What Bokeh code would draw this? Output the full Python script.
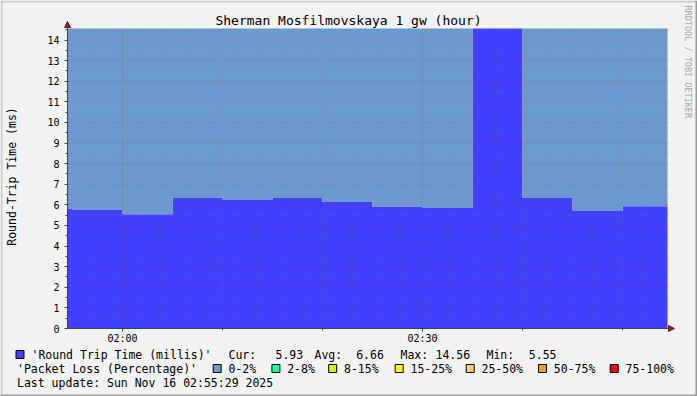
import math
import numpy as np
from bokeh.plotting import figure
from bokeh.models import (Range1d, FixedTicker, DatetimeTickFormatter,
                          Label, BoxAnnotation, Arrow, NormalHead)
from bokeh.embed import file_html
from bokeh.resources import INLINE

# ---------------- data ----------------
DAY = "2025-11-16"
step_edges = ["01:54:30", "01:55:00", "02:00:00", "02:05:00", "02:10:00", "02:15:00", "02:20:00",
              "02:25:00", "02:30:00", "02:35:00", "02:40:00", "02:45:00", "02:50:00", "02:54:30"]
rtt_ms = [5.80, 5.75, 5.55, 6.33, 6.24, 6.33, 6.14, 5.90, 5.85, 14.56, 6.33, 5.70, 5.93]
loss_pct = [0, 0, 0, 0, 0, 0, 0, 0, 0, 0, 0, 0, 0]

loss_bins = ["0-2%", "2-8%", "8-15%", "15-25%", "25-50%", "50-75%", "75-100%"]
loss_bin_upper = [2, 8, 15, 25, 50, 75, 100]
loss_colors = ["#6b9bce", "#1aff9c", "#ccff00", "#ffff00", "#ffcc66", "#ff9900", "#ff0000"]

x_major = ["02:00:00", "02:30:00"]
x_minor = ["02:10:00", "02:20:00", "02:40:00", "02:50:00"]
y_major = [0, 1, 2, 3, 4, 5, 6, 7, 8, 9, 10, 11, 12, 13, 14]
y_minor = [0.5, 1.5, 2.5, 3.5, 4.5, 5.5, 6.5, 7.5, 8.5, 9.5, 10.5, 11.5, 12.5, 13.5, 14.5]
view_start, view_end = "01:54:30", "02:54:42"
y_top = 14.56

stat_names = ["Cur:", "Avg:", "Max:", "Min:"]
stat_values = [5.93, 6.66, 14.56, 5.55]

title_text = "Sherman Mosfilmovskaya 1 gw (hour)"
rtt_label = "'Round Trip Time (millis)'"
loss_label = "'Packet Loss (Percentage)'"
update_text = "Last update: Sun Nov 16 02:55:29 2025"
y_title = "Round-Trip Time (ms)"
side_text = "RRDTOOL / TOBI OETIKER"

# ---------------- style ----------------
BACK = "#f2f2f2"
RTT_COLOR = "#4040ff"
AXIS = "#2c4d43"
ARROW = "#7f1f1f"
MGRID = "#ff0000"
GRID = "#808080"
FONT = "DejaVu Sans Mono"
W, H = 697, 396
FL, FR, FT, FB = 67, 669, 28, 328   # data-area edges in pixels
TEXT_LIFT = 4                        # renderer places the alphabetic baseline a bit low


def ms(t):
    return float(np.datetime64(f"{DAY}T{t}").astype("datetime64[ms]").astype(np.int64))


X0, X1 = ms(view_start), ms(view_end)
KX = (X1 - X0) / (FR - FL)      # ms per pixel
KY = y_top / (FB - FT)          # value per pixel


def sx(px):   # screen units, canvas bottom-left origin
    return px


def sy(py):
    return H - py


def loss_color(pct):
    for up, c in zip(loss_bin_upper, loss_colors):
        if pct <= up:
            return c
    return loss_colors[-1]


edges_ms = [ms(t) for t in step_edges]
rtt_step = rtt_ms + [rtt_ms[-1]]
step_colors = [loss_color(v) for v in loss_pct]

# the frame fills the whole canvas; ranges are widened so the data area sits at FL..FR / FT..FB
p = figure(width=W, height=H, output_backend="svg", toolbar_location=None,
           x_axis_type="datetime",
           x_range=Range1d(X0 - FL * KX, X1 + (W - FR) * KX),
           y_range=Range1d(-(H - FB) * KY, y_top + FT * KY),
           min_border=0, min_border_left=0, min_border_right=0, min_border_top=0, min_border_bottom=0,
           background_fill_color=BACK, border_fill_color=BACK, outline_line_color=None)
p.xgrid.visible = False
p.ygrid.visible = False

# RTT area
p.varea_step(x=edges_ms, y1=[0] * len(edges_ms), y2=rtt_step, step_mode="after",
             fill_color=RTT_COLOR)
# packet-loss area above RTT, one layer per loss category present
for c in loss_colors:
    if c not in step_colors:
        continue
    top = [y_top if sc == c else r for sc, r in zip(step_colors, rtt_ms)]
    p.varea_step(x=edges_ms, y1=rtt_step, y2=top + [top[-1]], step_mode="after", fill_color=c)

# grid lines (dotted) over the areas
p.segment(x0=[ms(t) for t in x_minor], x1=[ms(t) for t in x_minor], y0=0, y1=y_top,
          line_color=GRID, line_alpha=0.4, line_dash="1 2", line_width=1)
p.segment(x0=X0, x1=X1, y0=y_minor, y1=y_minor,
          line_color=GRID, line_alpha=0.4, line_dash="1 2", line_width=1)
p.segment(x0=[ms(t) for t in x_major], x1=[ms(t) for t in x_major], y0=0, y1=y_top,
          line_color=MGRID, line_alpha=0.3, line_dash="1 2", line_width=1)
p.segment(x0=X0, x1=X1, y0=y_major[1:], y1=y_major[1:],
          line_color=MGRID, line_alpha=0.3, line_dash="1 2", line_width=1)

# axes drawn at fixed data locations
xt = FixedTicker(ticks=[ms(t) for t in x_major], minor_ticks=[ms(t) for t in x_minor])
p.xaxis.ticker = xt
p.xaxis.formatter = DatetimeTickFormatter(minsec="%H:%M", minutes="%H:%M", hourmin="%H:%M",
                                          hours="%H:%M", days="%H:%M")
p.xaxis.fixed_location = 0
p.xaxis.bounds = (X0, X1)
yt = FixedTicker(ticks=y_major, minor_ticks=y_minor)
p.yaxis.ticker = yt
p.yaxis.fixed_location = X0
p.yaxis.bounds = (0, y_top)

for ax in (p.xaxis[0], p.yaxis[0]):
    ax.axis_line_color = AXIS
    ax.major_tick_line_color = AXIS
    ax.minor_tick_line_color = AXIS
    ax.major_tick_in = 0
    ax.minor_tick_in = 0
    ax.major_tick_out = 3
    ax.minor_tick_out = 2
    ax.major_label_text_font = FONT
    ax.major_label_text_font_size = "10px"
    ax.major_label_text_color = "#000000"
p.xaxis.major_label_standoff = 1
p.yaxis.major_label_standoff = 5

# arrows at axis ends
p.add_layout(Arrow(end=NormalHead(size=6, fill_color=ARROW, line_color=ARROW),
                   x_start=sx(FL), y_start=sy(FT), x_end=sx(FL), y_end=sy(21),
                   start_units="screen", end_units="screen", line_color=AXIS, line_width=1))
p.add_layout(Arrow(end=NormalHead(size=6, fill_color=ARROW, line_color=ARROW),
                   x_start=sx(FR), y_start=sy(FB), x_end=sx(674), y_end=sy(FB),
                   start_units="screen", end_units="screen", line_color=AXIS, line_width=1))


def label(px, py, s, size="11.5px", color="#000000", align="left", baseline="alphabetic",
          angle=0, lift=TEXT_LIFT):
    p.add_layout(Label(x=sx(px), y=sy(py - lift), x_units="screen", y_units="screen", text=s,
                       text_align=align, text_baseline=baseline, angle=angle, text_font=FONT,
                       text_font_size=size, text_color=color))


def box(l, r, t, b, color, line=None):
    p.add_layout(BoxAnnotation(left=sx(l), right=sx(r), top=sy(t), bottom=sy(b),
                               left_units="screen", right_units="screen",
                               top_units="screen", bottom_units="screen",
                               fill_color=color, fill_alpha=1, line_color=line,
                               line_alpha=1, line_width=1))


# title, axis title and side credit
label(348, 24, title_text, size="13px", align="center")
label(11, 176, y_title, size="11.5px", align="center", baseline="middle", angle=math.pi / 2, lift=0)
label(687.5, 5, side_text, size="8.5px", color="#a8a8a8", baseline="middle",
      angle=-math.pi / 2, lift=0)

# legend row 1
ROW1, ROW2, ROW3 = 358, 372, 386
box(15.5, 23.5, ROW1 - 8, ROW1, RTT_COLOR, "#000000")
label(31, ROW1, rtt_label)
stat_name_x = [228, 314, 400, 486]
stat_val_x = [275, 355.7, 435, 528.3]
for nm, v, nx, vx in zip(stat_names, stat_values, stat_name_x, stat_val_x):
    label(nx, ROW1, nm)
    label(vx, ROW1, f"{v:.2f}")

# legend row 2
label(16.5, ROW2, loss_label)
bin_text_x = [228, 286.7, 343.5, 410, 481, 553.3, 625]
for name, c, tx in zip(loss_bins, loss_colors, bin_text_x):
    box(tx - 15.3, tx - 7.3, ROW2 - 8, ROW2, c, "#000000")
    label(tx, ROW2, name)

# legend row 3
label(16.5, ROW3, update_text)

# 3D border around canvas
for l, r, t, b, c in [(0, W, 0, 2, "#cbcbcb"), (0, 2, 0, H, "#cbcbcb"),
                      (0, W, H - 2, H, "#999999"), (W - 2, W, 0, H, "#999999")]:
    box(l, r, t, b, c)

open("out.html", "w").write(file_html(p, INLINE))
